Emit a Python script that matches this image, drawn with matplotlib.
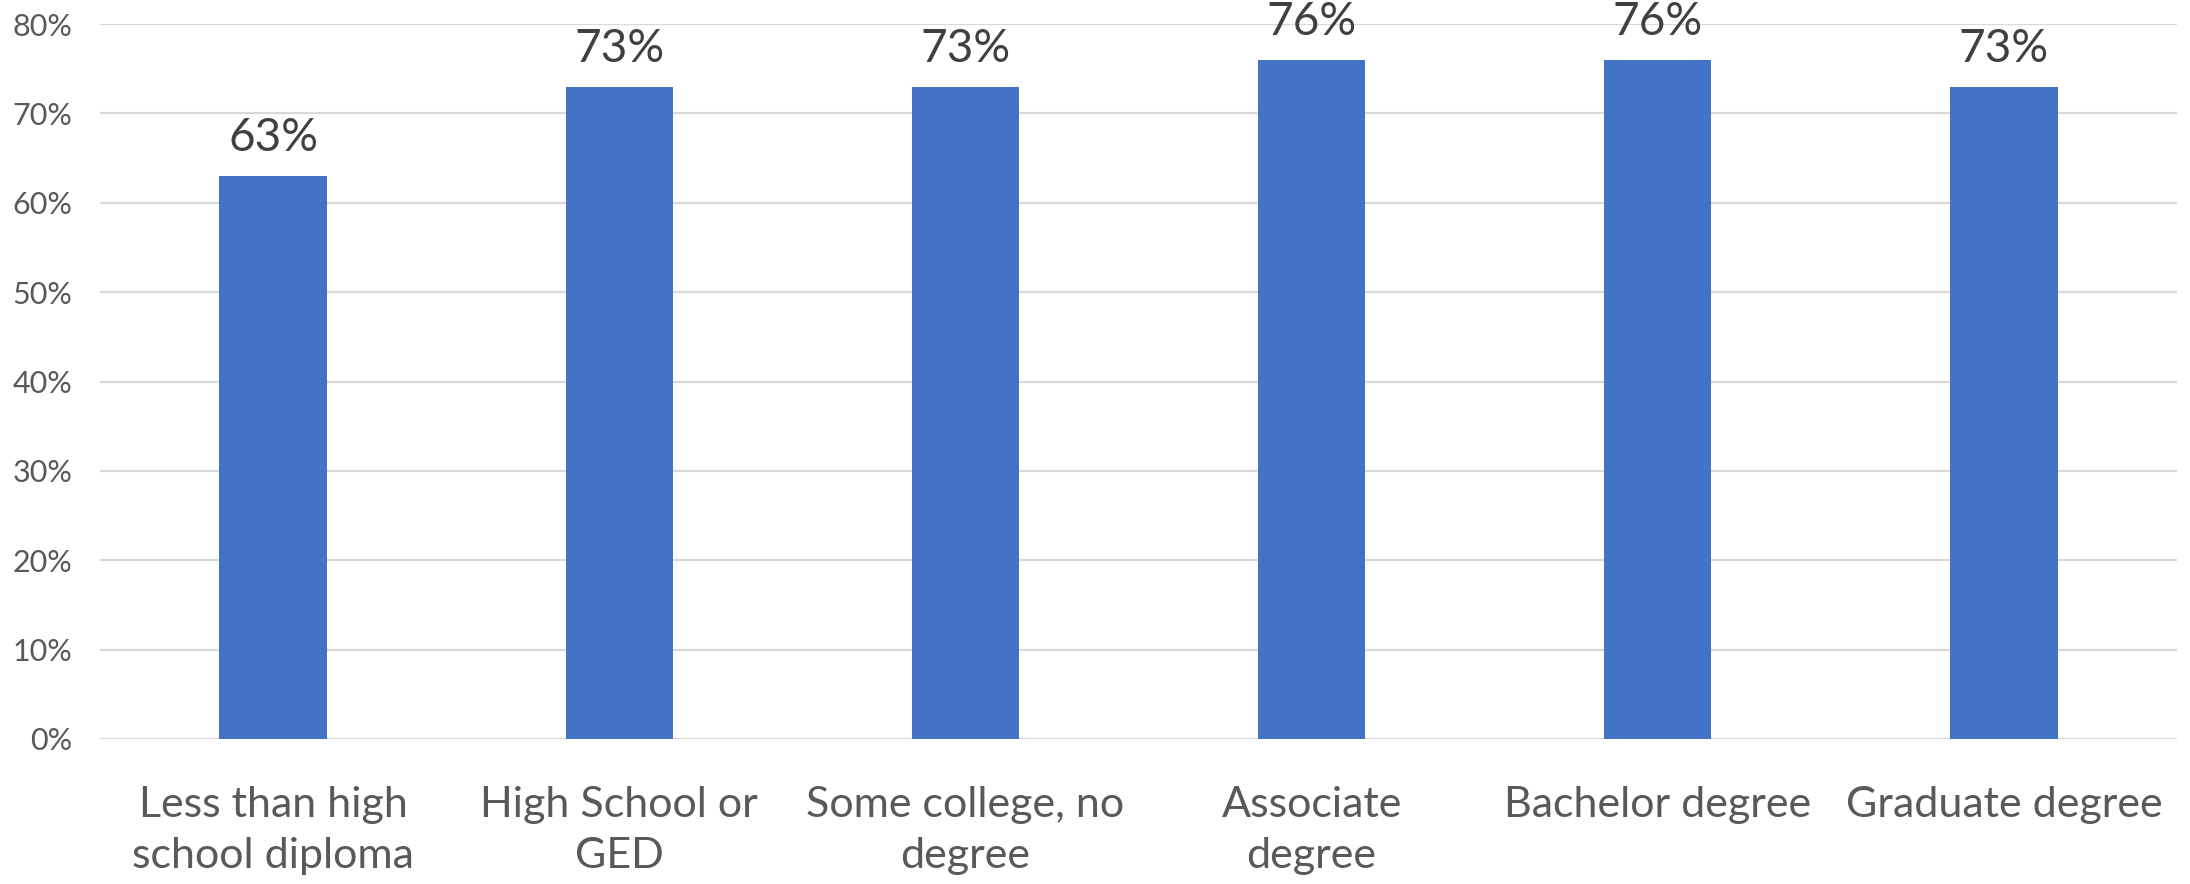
import matplotlib
matplotlib.use("Agg")
import matplotlib.pyplot as plt
from matplotlib.ticker import FuncFormatter, MultipleLocator

categories = ["Less than high\nschool diploma", "High School or\nGED", "Some college, no\ndegree",
              "Associate\ndegree", "Bachelor degree", "Graduate degree"]
values = [0.63, 0.73, 0.73, 0.76, 0.76, 0.73]
labels = ["63%", "73%", "73%", "76%", "76%", "73%"]

BAR_COLOR = "#4472C4"
plt.rcParams['font.family'] = ['Lato', 'DejaVu Sans']

fig = plt.figure(figsize=(21.9, 8.84), dpi=100, facecolor='white')
ax = fig.add_axes([100 / 2190, 1 - 739 / 884, 2077 / 2190, 715 / 884])

x = range(len(categories))
bars = ax.bar(x, values, width=0.31, color=BAR_COLOR, zorder=3)
for b, lab in zip(bars, labels):
    ax.annotate(lab, (b.get_x() + b.get_width() / 2, b.get_height()), xytext=(0, 12),
                textcoords='offset points', ha='center', va='bottom', fontsize=33, color='#404040')

ax.set_xlim(-0.5, len(categories) - 0.5)
ax.set_ylim(0, 0.8)
ax.yaxis.set_major_locator(MultipleLocator(0.1))
ax.yaxis.set_major_formatter(FuncFormatter(lambda v, p: f"{v*100:.0f}%"))
ax.grid(axis='y', color='#d9d9d9', linewidth=1.6, zorder=0)
for s in ax.spines.values():
    s.set_visible(False)
ax.tick_params(axis='y', length=0, pad=20, labelsize=22, labelcolor='#595959')
ax.tick_params(axis='x', length=0, pad=34, labelsize=31, labelcolor='#595959')
ax.set_xticks(list(x))
ax.set_xticklabels(categories, linespacing=1.4)

fig.savefig("out.png", dpi=100, facecolor='white')
